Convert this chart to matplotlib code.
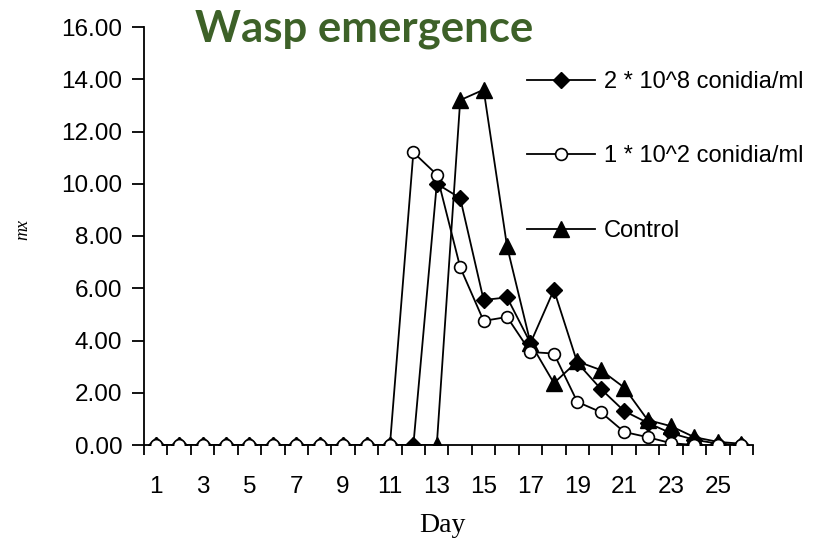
import matplotlib
matplotlib.use("Agg")
import matplotlib.pyplot as plt
import numpy as np

# Days of observation
days = list(range(1, 27))

# mx values per treatment
high_conc = [0, 0, 0, 0, 0, 0, 0, 0, 0, 0, 0, 0,
             10.0, 9.45, 5.55, 5.65, 3.9, 5.94, 3.15, 2.15, 1.3, 0.85, 0.45, 0.2, 0.05, 0.0]
low_conc = [0, 0, 0, 0, 0, 0, 0, 0, 0, 0, 0,
            11.2, 10.35, 6.8, 4.75, 4.9, 3.56, 3.5, 1.65, 1.26, 0.5, 0.3, 0.07, 0.0, 0.0, 0.0]
control = [0, 0, 0, 0, 0, 0, 0, 0, 0, 0, 0, 0, 0,
           13.2, 13.6, 7.6, 3.9, 2.37, 3.2, 2.87, 2.2, 0.96, 0.72, 0.3, 0.12, 0.05]

series_labels = ["2 * 10^8 conidia/ml", "1 * 10^2 conidia/ml", "Control"]
xtick_days = list(range(1, 26, 2))
yticks = np.arange(0, 16.01, 2)

W, H = 828, 541
fig = plt.figure(figsize=(W / 100, H / 100), dpi=100)
ax = fig.add_axes([144 / W, 1 - 445 / H, (753 - 144) / W, (445 - 27) / H])

sans = "Liberation Sans"
lw = 1.3
ax.plot(days, high_conc, color="black", lw=lw, marker="D", ms=8,
        mfc="black", mec="black", label=series_labels[0], zorder=3)
ax.plot(days, low_conc, color="black", lw=lw, marker="o", ms=8.5,
        mfc="white", mec="black", mew=1.2, label=series_labels[1], zorder=4)
ax.plot(days, control, color="black", lw=lw, marker="^", ms=11,
        mfc="black", mec="black", label=series_labels[2], zorder=2)

ax.set_xlim(0.5, 26.5)
ax.set_ylim(0, 16)

# Category-style x axis: ticks between days, labels on odd days
ax.set_xticks(xtick_days)
ax.set_xticklabels([str(d) for d in xtick_days], fontfamily=sans, fontsize=17.5)
ax.set_xticks(np.arange(0.5, 26.6, 1), minor=True)
ax.tick_params(axis="x", which="major", length=0, pad=22)
ax.tick_params(axis="x", which="minor", length=7, width=1.3, direction="out")

ax.set_yticks(yticks)
ax.set_yticklabels([f"{v:.2f}" for v in yticks], fontfamily=sans, fontsize=17.5)
ax.tick_params(axis="y", length=8.5, width=1.3, direction="out", pad=7)

for s in ["top", "right"]:
    ax.spines[s].set_visible(False)
for s in ["left", "bottom"]:
    ax.spines[s].set_linewidth(1.3)

fig.text(442 / W, 1 - 526 / H, "Day", fontfamily="Liberation Serif",
         fontsize=20, ha="center", va="center")
fig.text(23 / W, 1 - 229 / H, "mx", fontfamily="Liberation Serif",
         fontstyle="italic", fontsize=13, rotation=90, ha="center", va="center")

fig.text(364 / W, 1 - 29 / H, "Wasp emergence", fontfamily="Lato",
         fontweight="bold", fontsize=31.5, color="#3d6128", ha="center", va="center")

leg = ax.legend(loc="upper left", bbox_to_anchor=(527 / W, 1 - 71 / H),
                bbox_transform=fig.transFigure, frameon=False,
                prop={"family": sans, "size": 17}, handlelength=2.9,
                handletextpad=0.35, labelspacing=2.22, borderpad=0,
                borderaxespad=0)

fig.savefig("out.png", dpi=100)
